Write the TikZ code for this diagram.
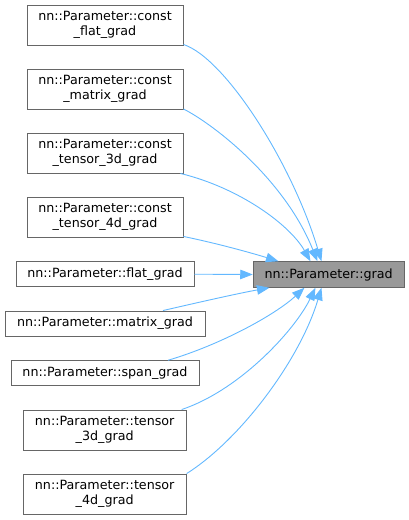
\documentclass[tikz,border=0pt]{standalone}
\usepackage{fontspec}
\setmainfont{DejaVu Sans}
\usetikzlibrary{arrows.meta}
\definecolor{edgeblue}{HTML}{63B8FF}
\definecolor{boxborder}{HTML}{666666}
\definecolor{targetfill}{HTML}{999999}
\begin{document}
\begin{tikzpicture}[x=1pt,y=-1pt,
  box/.style={draw=boxborder,line width=0.9pt,fill=white,inner sep=0pt,align=center,
    font=\fontsize{12.7}{14.6}\selectfont},
  twoline/.style={box,minimum width=156pt,minimum height=40pt},
  oneline/.style={box,minimum height=25pt},
  tgt/.style={box,fill=targetfill,minimum width=151pt,minimum height=25.6pt},
  edge/.style={draw=edgeblue,line width=0.9pt,-{Triangle[length=12.5pt,width=9.5pt]},edgeblue}]
\useasboundingbox (0,0) rectangle (409,520);
\node[twoline] (b1) at (105,25) {nn::Parameter::const\\\_flat\_grad};
\node[twoline] (b2) at (105,89) {nn::Parameter::const\\\_matrix\_grad};
\node[twoline] (b3) at (105,153) {nn::Parameter::const\\\_tensor\_3d\_grad};
\node[twoline] (b4) at (105,217) {nn::Parameter::const\\\_tensor\_4d\_grad};
\node[oneline,minimum width=178pt] (b5) at (105,274.2) {nn::Parameter::flat\_grad};
\node[oneline,minimum width=200pt] (b6) at (105,323.5) {nn::Parameter::matrix\_grad};
\node[oneline,minimum width=188pt] (b7) at (105,373.2) {nn::Parameter::span\_grad};
\node[twoline,minimum width=163pt] (b8) at (104.7,430) {nn::Parameter::tensor\\\_3d\_grad};
\node[twoline,minimum width=163pt] (b9) at (104.7,494) {nn::Parameter::tensor\\\_4d\_grad};
\node[tgt] (t) at (328.7,274.5) {nn::Parameter::grad};

\draw[edge] ([yshift=1pt]b1.south east) .. controls (225,58) and (292,163) .. ([xshift=68.7pt]t.north west);
\draw[edge] ([yshift=0.5pt]b2.south east) .. controls (215,125) and (285,180) .. ([xshift=64.7pt]t.north west);
\draw[edge] ([xshift=-3pt]b3.south east) .. controls (240,188) and (290,225) .. ([xshift=57.7pt]t.north west);
\draw[edge] ([yshift=1pt]b4.south east) .. controls (220,244) and (255,254) .. ([xshift=25.7pt]t.north west);
\draw[edge] (b5.east) -- (t.west);
\draw[edge] ([xshift=58pt]b6.north) .. controls (200,302) and (240,293) .. ([xshift=16.7pt]t.south west);
\draw[edge] ([xshift=63pt]b7.north) .. controls (220,345) and (275,315) .. ([xshift=51.7pt]t.south west);
\draw[edge] ([xshift=-5pt]b8.north east) .. controls (240,390) and (295,330) .. ([xshift=62.7pt]t.south west);
\draw[edge] (b9.north east) .. controls (240,440) and (300,360) .. ([xshift=68.7pt]t.south west);
\end{tikzpicture}
\end{document}
